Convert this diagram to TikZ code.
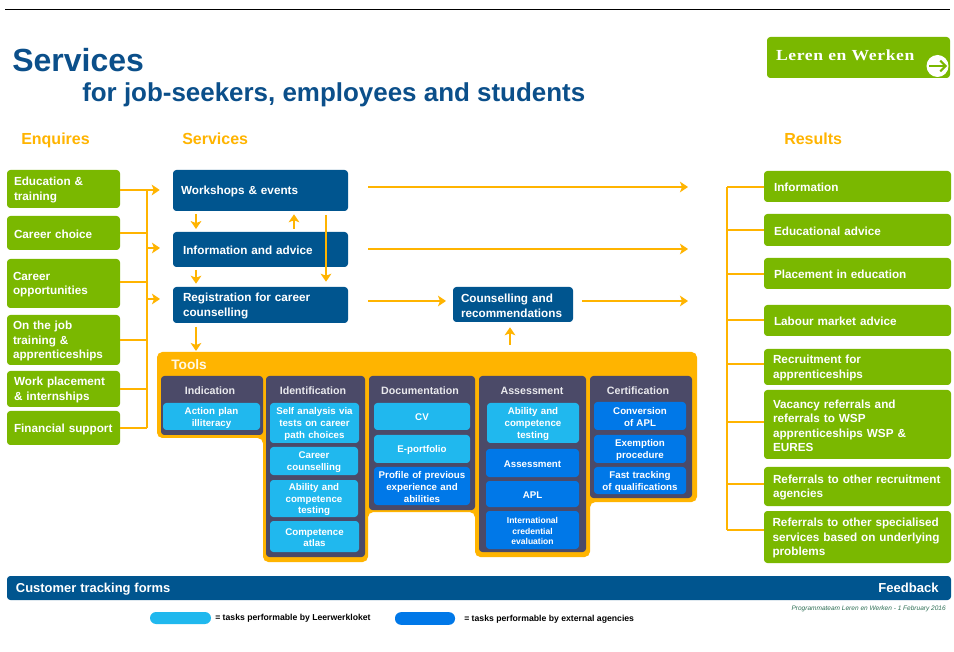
\documentclass[tikz,border=0pt]{standalone}
\usepackage{fontspec}
\setmainfont{Liberation Sans}
\newfontfamily\lwfont[LetterSpace=4,FakeStretch=1.15]{Liberation Serif}
\usetikzlibrary{arrows.meta}
\definecolor{cgreen}{HTML}{7AB800}
\definecolor{cnavy}{HTML}{00558F}
\definecolor{corange}{HTML}{FFB400}
\definecolor{cdark}{HTML}{4B4A68}
\definecolor{ccyan}{HTML}{20B8EE}
\definecolor{cblue}{HTML}{0078E8}
\definecolor{ctitle}{HTML}{0B4F8A}
\definecolor{cfoot}{HTML}{2F6F55}
\tikzset{
  boxbase/.style={inner ysep=0pt,font=\fontsize{8.8}{10.8}\selectfont\bfseries,text=white,rounded corners=2.5pt},
  greenbox/.style={boxbase,fill=cgreen,align=left},
  navybox/.style={boxbase,fill=cnavy,align=left},
  cyanbox/.style={boxbase,fill=ccyan,align=center,font=\fontsize{7.3}{8.8}\selectfont\bfseries},
  bluebox/.style={boxbase,fill=cblue,align=center,font=\fontsize{7.3}{8.8}\selectfont\bfseries},
  panel/.style={boxbase,fill=cdark},
  panelhead/.style={font=\fontsize{8}{10}\selectfont\bfseries,text=white!88!cdark,inner sep=0pt},
  heading/.style={font=\fontsize{12}{14}\selectfont\bfseries,text=corange,inner sep=0pt,anchor=base west},
  conn/.style={draw=corange,line width=1.4pt},
  arr/.style={draw=corange,line width=1.4pt,-{Stealth[length=6pt,width=8pt,inset=1.5pt]}},
}
\newcommand{\bx}[8]{%
  \pgfmathsetmacro{\tw}{(#5-#3-2*#7)*0.75}%
  \pgfmathsetmacro{\xp}{#7*0.75}%
  \pgfmathsetmacro{\hh}{(#6-#4)*0.75}%
  \node[#2,text width=\tw pt,inner xsep=\xp pt,minimum height=\hh pt] (#1) at ({(#3+#5)/2},{(#4+#6)/2}) {};
  \node[#2,fill=none,text width=\tw pt,inner xsep=\xp pt,yshift=-0.85pt] (#1t) at (#1.center) {#8};}
\begin{document}
\begin{tikzpicture}[x=0.75pt,y=-0.75pt]
\useasboundingbox (0,0) rectangle (954,652);
\fill[white] (0,0) rectangle (954,652);
\coordinate (ruleA) at (5,9.5);
\coordinate (ruleB) at (950,9.5);
\draw[black,line width=0.8pt] (ruleA) -- (ruleB);
% titles
\node[anchor=base west,inner sep=0pt,font=\fontsize{24}{28}\selectfont\bfseries,text=ctitle] (title) at (12,72) {Services};
\node[anchor=base west,inner sep=0pt,font=\fontsize{19.45}{22}\selectfont\bfseries,text=ctitle] (subtitle) at (82,102) {for job-seekers, employees and students};
\node[heading] (hEnq) at (21,145) {Enquires};
\node[heading] (hSer) at (182,145) {Services};
\node[heading] (hRes) at (784,145) {Results};
% Leren en Werken
\bx{lw}{greenbox,font=\fontsize{11.5}{14}\selectfont\lwfont\bfseries}{767}{37}{950}{78}{9}{\raisebox{4.5pt}{Leren en Werken}}
\node[circle,fill=white,minimum size=16.5pt,inner sep=0pt] (lwc) at (937.5,66) {};
\coordinate (lwa) at (929,66);
\coordinate (lwb) at (947,66);
\draw[draw=cgreen,line width=1.5pt,-{Straight Barb[length=4pt,width=8pt]}] (lwa) -- (lwb);
% enquiries
\bx{edu}{greenbox}{7}{170}{120}{208}{7}{Education \&\\training}
\bx{choice}{greenbox}{7}{216}{120}{250}{7}{Career choice}
\bx{opp}{greenbox}{7}{259}{120}{308}{6}{Career\\opportunities}
\bx{job}{greenbox}{7}{315}{120}{365}{6}{On the job\\training \&\\apprenticeships}
\bx{place}{greenbox}{7}{371}{120}{407}{7}{Work placement\\\& internships}
\bx{fin}{greenbox}{7}{411}{120}{445}{7}{\mbox{Financial support}}
% services
\bx{work}{navybox}{173}{170}{348}{211}{8}{Workshops \& events}
\bx{info}{navybox}{173}{232}{348}{267}{10}{Information and advice}
\bx{reg}{navybox}{173}{287}{348}{323}{10}{Registration for career\\counselling}
\bx{couns}{navybox}{453}{287}{573}{322}{8}{Counselling and\\\mbox{recommendations}}
% left connectors
\coordinate (lt) at (147,190);
\coordinate (ltb) at (147,428);
\coordinate (lc1) at (120,190);
\coordinate (lc3) at (120,282);
\draw[conn] (lt) -- (ltb);
\foreach \n in {choice.east,lc3,job.east,place.east,fin.east}{\draw[conn] (\n) -- (\n -| lt);}
\draw[arr,shorten >=9.75pt] (lc1) -- (work.west |- lc1);
\coordinate (infa) at (173,248);
\draw[arr,shorten >=9.75pt] (lt |- infa) -- (infa);
\coordinate (rega) at (173,299);
\draw[arr,shorten >=9.75pt] (lt |- rega) -- (rega);
% vertical links
\coordinate (v1) at (196,214); \draw[arr,shorten >=2pt] (v1) -- (info.north -| v1);
\coordinate (v2) at (294,229); \draw[arr,shorten >=2.25pt] (v2) -- (work.south -| v2);
\coordinate (v3) at (326,215); \draw[arr,shorten >=3.75pt] (v3) -- (reg.north -| v3);
\coordinate (v4) at (196,270); \draw[arr,shorten >=2.25pt] (v4) -- (reg.north -| v4);
\coordinate (v5) at (196,327);
% Tools
\path[fill=corange,rounded corners=4pt] (157,352) -- (697,352) -- (697,502) -- (590,502) -- (590,557) -- (475,557) -- (475,512) -- (368,512) -- (368,562) -- (263,562) -- (263,438) -- (157,438) -- cycle;
\node[anchor=west,inner sep=0pt,font=\fontsize{10.3}{12}\selectfont\bfseries,text=white!90!corange] (tools) at (171,364.5) {Tools};
\coordinate (v6) at (196,351);
\draw[arr] (v5) -- (v6);
\coordinate (v7) at (510,345); \draw[arr,shorten >=3.75pt] (v7) -- (couns.south -| v7);
% panels
\bx{pInd}{panel}{161}{376}{263}{435}{0}{}
\bx{pIde}{panel}{266}{376}{365}{557}{0}{}
\bx{pDoc}{panel}{369}{376}{475}{510}{0}{}
\bx{pAss}{panel}{479}{376}{586}{552}{0}{}
\bx{pCer}{panel}{590}{376}{692}{498}{0}{}
\node[panelhead] (hInd) at (210,390.5) {Indication};
\node[panelhead] (hIde) at (313,390.5) {Identification};
\node[panelhead] (hDoc) at (420,390.5) {Documentation};
\node[panelhead] (hAss) at (532,390.5) {Assessment};
\node[panelhead] (hCer) at (638,390.5) {Certification};
\bx{t1}{cyanbox}{163}{403}{260}{430}{0}{Action plan\\illiteracy}
\bx{t2}{cyanbox}{270}{403}{359}{443}{0}{Self analysis via\\tests on career\\path choices}
\bx{t3}{cyanbox}{270}{447}{358}{475}{0}{Career\\counselling}
\bx{t4}{cyanbox}{270}{480}{358}{517}{0}{Ability and\\competence\\testing}
\bx{t5}{cyanbox}{270}{521}{359}{552}{0}{Competence\\atlas}
\bx{t6}{cyanbox}{374}{403}{470}{430}{0}{CV}
\bx{t7}{cyanbox}{374}{435}{470}{463}{0}{E-portfolio}
\bx{t8}{bluebox}{374}{467}{470}{505}{0}{Profile of previous\\experience and\\abilities}
\bx{t9}{cyanbox}{487}{403}{579}{443}{0}{Ability and\\competence\\testing}
\bx{t10}{bluebox}{486}{449}{579}{477}{0}{Assessment}
\bx{t11}{bluebox}{486}{481}{579}{507}{0}{APL}
\bx{t12}{bluebox,font=\fontsize{6.4}{7.8}\selectfont\bfseries}{486}{511}{579}{549}{0}{International\\credential\\evaluation}
\bx{t13}{bluebox}{594}{402}{686}{430}{0}{Conversion\\of APL}
\bx{t14}{bluebox}{594}{435}{686}{463}{0}{Exemption\\procedure}
\bx{t15}{bluebox}{594}{467}{686}{494}{0}{Fast tracking\\of qualifications}
% results
\bx{r1}{greenbox}{764}{171}{951}{202}{10}{Information}
\bx{r2}{greenbox}{764}{214}{951}{246}{10}{Educational advice}
\bx{r3}{greenbox}{764}{258}{951}{289}{10}{Placement in education}
\bx{r4}{greenbox}{764}{305}{951}{336}{10}{Labour market advice}
\bx{r5}{greenbox}{764}{349}{951}{385}{9}{Recruitment for\\apprenticeships}
\bx{r6}{greenbox}{764}{390}{951}{459}{9}{Vacancy referrals and\\referrals to WSP\\apprenticeships WSP \&\\EURES}
\bx{r7}{greenbox}{764}{467}{951}{506}{9}{\mbox{Referrals to other recruitment}\\agencies}
\bx{r8}{greenbox}{764}{511}{951}{563}{8.5}{\mbox{Referrals to other specialised}\\\mbox{services based on underlying}\\problems}
% right connectors
\coordinate (rt) at (727,187);
\coordinate (rc1) at (764,187);
\coordinate (rc2) at (764,230);
\coordinate (rc3) at (764,274);
\coordinate (rc4) at (764,320);
\coordinate (rc5) at (764,364);
\coordinate (rc6) at (764,422);
\coordinate (rc7) at (764,484);
\coordinate (rc8) at (764,530);
\draw[conn] (rt) -- (rt |- rc8);
\foreach \n in {rc1,rc2,rc3,rc4,rc5,rc6,rc7,rc8}{\draw[conn] (\n) -- (\n -| rt);}
% horizontal outputs
\coordinate (o1) at (688,187);
\coordinate (o2) at (688,249);
\coordinate (o3) at (688,301);
\coordinate (o4) at (446,301);
\draw[arr,shorten <=15pt] (work.east |- o1) -- (o1);
\draw[arr,shorten <=15pt] (info.east |- o2) -- (o2);
\draw[arr,shorten <=15pt] (reg.east |- o4) -- (o4);
\draw[arr,shorten <=6.75pt] (couns.east |- o3) -- (o3);
% bottom bar
\bx{bar}{navybox}{7}{576}{951}{600}{9}{\fontsize{9.7}{11}\selectfont Customer tracking forms}
\node[anchor=east,inner sep=0pt,font=\fontsize{9.8}{11}\selectfont\bfseries,text=white] (feedback) at (939,588) {Feedback};
% legend
\node[fill=ccyan,rounded corners=4.5pt,minimum width=45.75pt,minimum height=9pt,inner sep=0pt] (legA) at (180.5,618) {};
\node[anchor=west,inner sep=0pt,font=\fontsize{6.5}{7}\selectfont\bfseries] (legAt) at (215,618) {= tasks performable by Leerwerkloket};
\node[fill=cblue,rounded corners=4.5pt,minimum width=45pt,minimum height=9.5pt,inner sep=0pt] (legB) at (425,618.5) {};
\node[anchor=west,inner sep=0pt,font=\fontsize{6.5}{7}\selectfont\bfseries] (legBt) at (464,619) {= tasks performable by external agencies};
\node[anchor=east,inner sep=0pt,font=\fontsize{4.9}{6}\selectfont\itshape,text=cfoot] (foot) at (946,609) {Programmateam Leren en Werken - 1 February 2016};
\end{tikzpicture}
\end{document}
